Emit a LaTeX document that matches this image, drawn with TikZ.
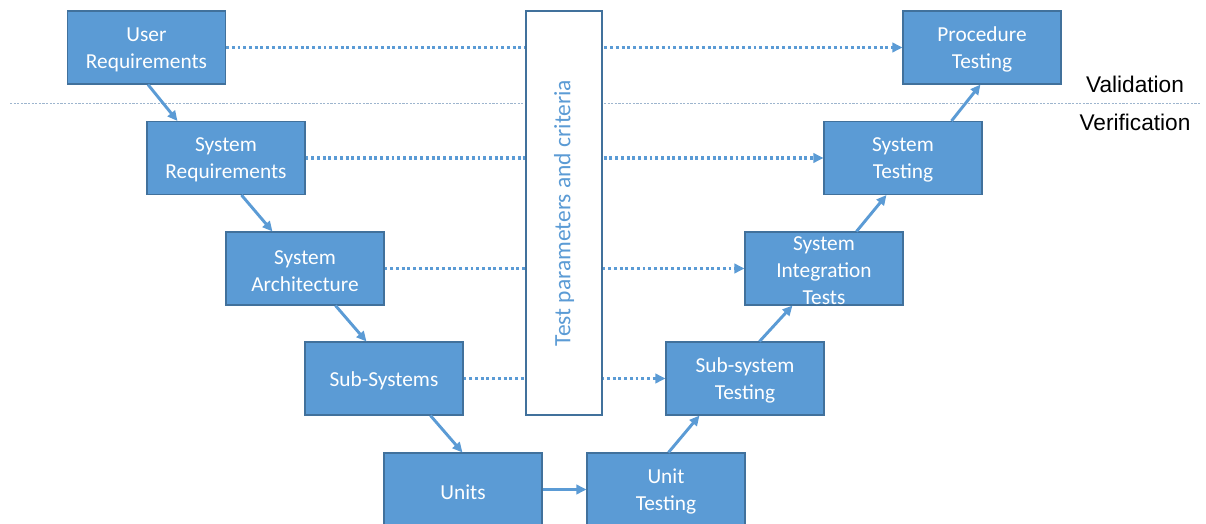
\documentclass[tikz,border=0pt]{standalone}
\usepackage{fontspec}
\setmainfont{Carlito}
\newfontfamily\arialfont{Liberation Sans}
\usetikzlibrary{calc,arrows.meta}
\definecolor{boxfill}{HTML}{5B9BD5}
\definecolor{boxline}{HTML}{41719C}
\definecolor{sepline}{HTML}{9DB5CE}
\begin{document}
\begin{tikzpicture}[x=0.75pt,y=-0.75pt,
  stage/.style={draw=boxline, line width=0.8pt, fill=boxfill,
    minimum width=118.5pt, minimum height=54.75pt, inner sep=0pt},
  stagetext/.style={text=white, align=center, inner sep=0pt, yshift=-1.7pt,
    font=\fontsize{16}{20.25}\selectfont},
  flow/.style={draw=boxfill, line width=2.2pt, -{Triangle[length=7.5pt,width=7pt]}},
  trace/.style={draw=boxfill, line width=2.3pt, dash pattern=on 2.2pt off 2.1pt,
    -{Triangle[length=7.5pt,width=7pt]}},
  testbox/.style={draw=boxline, line width=0.8pt, fill=white,
    minimum width=57pt, minimum height=303pt, inner sep=0pt},
  sidelabel/.style={font=\arialfont\fontsize{17}{18}\selectfont, text=black}
]
\useasboundingbox (0,0) rectangle (1206,524);

% separator
\coordinate (sepL) at (10,103);
\coordinate (sepR) at (1200,103);
\draw[sepline, line width=0.7pt, dash pattern=on 1.6pt off 1.1pt] (sepL) -- (sepR);

% left branch
\node[stage, label={[stagetext]center:{User\\Requirements}}]   (ur)  at (146.5,47.5) {};
\node[stage, label={[stagetext]center:{System\\Requirements}}] (sr)  at (226,158)    {};
\node[stage, label={[stagetext]center:{System\\Architecture}}] (sa)  at (305,268.5)  {};
\node[stage, label={[stagetext]center:{Sub-Systems}}]          (ss)  at (384,378.5)  {};
\node[stage, label={[stagetext]center:{Units}}]                (un)  at (463,489.5)  {};
% right branch
\node[stage, label={[stagetext]center:{Unit\\Testing}}]        (ut)  at (666,489.5)  {};
\node[stage, label={[stagetext]center:{Sub-system\\Testing}}]  (sst) at (745,378.5)  {};
\node[stage, label={[stagetext]center:{System\\Integration\\Tests}}] (sit) at (824,268.5) {};
\node[stage, label={[stagetext]center:{System\\Testing}}]      (syt) at (903,158)    {};
\node[stage, label={[stagetext]center:{Procedure\\Testing}}]   (prt) at (982,47.5)   {};

% dotted traces
\draw[trace] (ur.east) -- (prt.west);
\draw[trace] (sr.east) -- (syt.west);
\draw[trace] (sa.east) -- (sit.west);
\draw[trace] (ss.east) -- (sst.west);

% test parameter box
\node[testbox] (tp) at (564,213) {};
\node[rotate=90, text=boxfill, font=\fontsize{17.6}{20}\selectfont] (tpl) at (tp.center) {Test parameters and criteria};

% solid flow arrows
\draw[flow] ($(ur.south west)+(81,0)$) -- ($(sr.north west)+(31,0)$);
\draw[flow] ($(sr.south west)+(95,0)$) -- ($(sa.north west)+(47,0)$);
\draw[flow] ($(sa.south west)+(110,0)$) -- ($(ss.north west)+(62,0)$);
\draw[flow] ($(ss.south west)+(126,0)$) -- ($(un.north west)+(79,0)$);
\draw[flow] (un.east) -- (ut.west);
\draw[flow] ($(ut.north west)+(82,0)$) -- ($(sst.south west)+(34,0)$);
\draw[flow] ($(sst.north west)+(94,0)$) -- ($(sit.south west)+(48,0)$);
\draw[flow] ($(sit.north west)+(112,0)$) -- ($(syt.south west)+(63,0)$);
\draw[flow] ($(syt.north west)+(128,0)$) -- ($(prt.south west)+(78,0)$);

% side labels
\node[sidelabel] (val) at (1135,84) {Validation};
\node[sidelabel] (ver) at (1135,122) {Verification};
\end{tikzpicture}
\end{document}
